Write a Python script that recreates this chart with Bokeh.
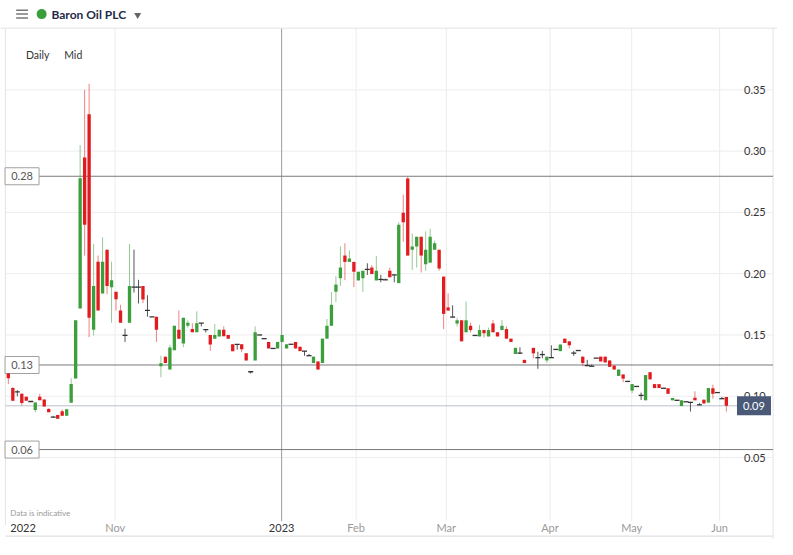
import numpy as np
from bokeh.plotting import figure
from bokeh.models import ColumnDataSource, Range1d
from bokeh.core.properties import value
from bokeh.embed import file_html
from bokeh.resources import INLINE

nan = float("nan")

# ---------------- data (daily OHLC, one entry per trading session) ----------------
opens = [
    .1186, .1067, .1036, .1020, .0996, .0957, .0887, .0996, .0973, .0895,
    .0830, .0848, .0877, .0840, .0946, .1144, .1717, .2948, .3300, .1543,
    .2098, .1838, .2196, .1890, .1852, .1700, .1496, .1600, .1890, .1890,
    .1900, .1700, .1648, .1648, .1244, .1323, .1218, .1376, .1543, .1430,
    .1575, .1548, .1522, .1596, .1543, .1500, .1470, .1488, .1543, .1500,
    .1424, .1424, .1424, .1350, .1200, .1292, .1500, .1470, .1443, .1390,
    .1390, .1443, .1390, .1424, .1443, .1404, .1368, .1331, .1271, .1284,
    .1271, .1470, .1575, .1853, .1963, .2148, .2096, .2096, .1945, .1963,
    .2035, .2050, .1945, .1953, .1950, .2024, .1990, .1923, .2497, .2777,
    .2195, .2222, .2301, .2077, .2090, .2195, .2195, .1976, .1725, .1646,
    .1593, .1620, .1522, .1575, .1496, .1488, .1540, .1488, .1594, .1522,
    .1540, .1548, .1470, .1345, .1352, .1297, nan, .1395, .1315, .1340,
    .1292, .1315, .1382, .1368, .1470, .1448, .1352, .1373, .1323, .1250,
    .1245, .1311, .1323, .1323, .1292, .1250, .1166, .1178, .1121, .1046,
    .1080, .1007, .0967, .1196, .1099, .1099, .1065, .1065, .0967, .0967,
    .0920, .0955, .0950, .0988, .0930, .0972, .0948, .1065, .1030, .0980,
    .0994,
]
highs = [
    .1190, .1075, .1050, .1025, .0996, .0957, .0949, .1020, .0973, .0905,
    .0840, .0848, .0893, .0893, .1147, .1620, .3050, .3500, .3550, .2243,
    .2148, .2296, .2196, .2098, .1852, .1747, .1551, .2243, .2196, .1950,
    .1900, .1824, .1648, .1648, .1330, .1323, .1420, .1575, .1700, .1640,
    .1620, .1596, .1693, .1596, .1543, .1500, .1590, .1543, .1570, .1500,
    .1424, .1424, .1424, .1350, .1200, .1570, .1500, .1470, .1443, .1390,
    .1443, .1500, .1424, .1424, .1443, .1404, .1368, .1345, .1323, .1284,
    .1470, .1630, .1850, .1980, .2222, .2248, .2190, .2096, .2016, .2024,
    .2085, .2070, .2143, .1990, .1960, .2050, .1990, .2420, .2644, .2790,
    .2327, .2301, .2301, .2345, .2366, .2270, .2195, .1976, .1840, .1741,
    .1640, .1620, .1773, .1600, .1496, .1582, .1540, .1560, .1622, .1522,
    .1622, .1570, .1470, .1395, .1400, .1297, nan, .1395, .1363, .1370,
    .1323, .1416, .1382, .1422, .1470, .1448, .1370, .1373, .1323, .1297,
    .1260, .1311, .1323, .1323, .1292, .1250, .1218, .1178, .1121, .1099,
    .1080, .1030, .1173, .1196, .1099, .1099, .1065, .1065, .0986, .0967,
    .0967, .0955, .0950, .1040, .0945, .0972, .1067, .1094, .1030, .0995,
    .0994,
]
lows = [
    .1100, .0960, .1000, .0925, .0964, .0957, .0869, .0968, .0917, .0869,
    .0830, .0816, .0840, .0840, .0946, .1144, .1717, .2148, .1482, .1496,
    .1700, .1838, .1832, .1600, .1700, .1600, .1443, .1600, .1846, .1757,
    .1760, .1649, .1648, .1443, .1155, .1271, .1218, .1376, .1470, .1400,
    .1560, .1522, .1522, .1570, .1520, .1370, .1470, .1488, .1490, .1470,
    .1368, .1380, .1360, .1292, .1185, .1292, .1500, .1470, .1390, .1390,
    .1390, .1443, .1390, .1424, .1390, .1368, .1330, .1331, .1271, .1218,
    .1271, .1470, .1575, .1770, .1900, .1947, .2096, .1891, .1945, .1852,
    .1990, .1997, .1945, .1930, .1950, .1971, .1930, .1923, .2260, .2148,
    .2030, .2050, .2010, .2024, .2090, .2195, .2024, .1548, .1699, .1646,
    .1570, .1448, .1522, .1520, .1496, .1488, .1480, .1488, .1522, .1488,
    .1540, .1470, .1443, .1345, .1345, .1271, nan, .1310, .1224, .1310,
    .1270, .1315, .1382, .1368, .1435, .1390, .1330, .1373, .1245, .1250,
    .1245, .1311, .1284, .1276, .1240, .1218, .1166, .1115, .1121, .1025,
    .1080, .0970, .0967, .1138, .1067, .1067, .1065, .1020, .0967, .0967,
    .0920, .0955, .0875, .0967, .0930, .0941, .0948, .0980, .1030, .0980,
    .0875,
]
closes = [
    .1147, .0964, .1036, .0945, .0964, .0957, .0949, .0968, .0917, .0869,
    .0830, .0816, .0840, .0893, .1099, .1620, .2779, .2399, .1640, .1900,
    .1700, .2098, .1900, .1947, .1791, .1600, .1496, .1900, .1890, .1890,
    .1790, .1700, .1648, .1543, .1270, .1271, .1398, .1575, .1470, .1640,
    .1600, .1522, .1596, .1596, .1543, .1422, .1500, .1543, .1490, .1470,
    .1368, .1424, .1384, .1292, .1200, .1522, .1500, .1470, .1390, .1390,
    .1443, .1500, .1424, .1424, .1390, .1368, .1368, .1331, .1323, .1218,
    .1470, .1575, .1746, .1911, .2050, .2096, .2124, .2016, .2016, .2024,
    .2035, .1997, .2024, .1953, .1950, .1971, .1990, .2399, .2420, .2148,
    .2222, .2301, .2148, .2195, .2301, .2248, .2042, .1672, .1699, .1646,
    .1620, .1448, .1620, .1540, .1496, .1540, .1514, .1540, .1522, .1488,
    .1575, .1470, .1443, .1395, .1352, .1271, nan, .1350, .1315, .1340,
    .1323, .1315, .1382, .1422, .1435, .1416, .1352, .1373, .1271, .1250,
    .1245, .1311, .1284, .1276, .1240, .1218, .1218, .1144, .1121, .1099,
    .1080, .1007, .1173, .1138, .1067, .1067, .1065, .1020, .0986, .0967,
    .0967, .0955, .0950, .0967, .0930, .0941, .1067, .1020, .1030, .0980,
    .0922,
]

y_ticks = [0.05, 0.10, 0.15, 0.20, 0.25, 0.30, 0.35]
y_tick_labels = ["0.05", "0.10", "0.15", "0.20", "0.25", "0.30", "0.35"]
x_ticks = [23.8, 60.9, 77.5, 97.6, 120.7, 138.9, 158.5]
x_tick_labels = ["Nov", "2023", "Feb", "Mar", "Apr", "May", "Jun"]
start_year_label = "2022"
level_values = [0.2795, 0.1255, 0.0565]
level_labels = ["0.28", "0.13", "0.06"]
title_text = "Baron Oil PLC"

# ---------------- layout helpers (reference pixel -> data) ----------------
W, H = 777, 539
RW, RH = 793, 555
X0, DX = 8.0, 4.58
Y_REF, V_REF, PPU = 92.0, 0.35, 1262.0


def px2x(px):
    return (px - X0) / DX


def px2y(py):
    return V_REF - (py - Y_REF) / PPU


FONT = value("Lato")
GREEN, RED, DOJI = "#3c9f3c", "#e21b1f", "#333333"

p = figure(width=W, height=H, output_backend="svg", toolbar_location=None, tools="",
           x_range=Range1d(px2x(0), px2x(RW)), y_range=Range1d(px2y(RH), px2y(0)),
           x_axis_location=None, y_axis_location=None, min_border=0,
           outline_line_color=None, background_fill_color="white", border_fill_color="white")
p.xgrid.grid_line_color = None
p.ygrid.grid_line_color = None

# ---------------- frame / grid ----------------
xl, xr = px2x(5), px2x(788.5)
p.segment(x0=xl, x1=xr, y0=y_ticks, y1=y_ticks, line_color="#ededed", line_width=1)
grid_cols = ["#9c9c9c" if lab.isdigit() else "#ececec" for lab in x_tick_labels]
p.segment(x0=x_ticks, x1=x_ticks, y0=px2y(28.5), y1=px2y(536), line_color=grid_cols, line_width=1)
# header separator, borders, navigator line
p.segment(x0=px2x(0), x1=px2x(RW), y0=px2y(28.5), y1=px2y(28.5), line_color="#e2e2e2", line_width=1)
p.segment(x0=[xl, xr], x1=[xl, xr], y0=px2y(28.5), y1=[px2y(540), px2y(RH)], line_color="#e4e4e4", line_width=1)
p.segment(x0=xl, x1=xr, y0=px2y(551.5), y1=px2y(551.5), line_color="#d9d9d9", line_width=1)

# horizontal level lines with their labels
p.segment(x0=px2x(39), x1=xr, y0=level_values, y1=level_values, line_color="#7a7a7a", line_width=1)
p.rect(x=px2x(22), y=level_values, width=34, height=17, width_units="screen", height_units="screen",
       fill_color="white", line_color="#a0a0a0", line_width=1)
p.text(x=px2x(22), y=level_values, text=level_labels, text_font=FONT, text_font_size="11px",
       text_align="center", text_baseline="middle", text_color="#555555")

# last price line
last_price = closes[-1]
p.segment(x0=xl, x1=px2x(752), y0=last_price, y1=last_price, line_color="#b9c0cc", line_width=1)

# ---------------- candles ----------------
o = np.array(opens); h = np.array(highs); l = np.array(lows); c = np.array(closes)
idx = np.arange(len(o))
ok = ~np.isnan(o)
up = ok & (c > o)
dn = ok & (c < o)
dj = ok & (c == o)

for mask, col in ((up, GREEN), (dn, RED)):
    src = ColumnDataSource(dict(x=idx[mask], o=o[mask], h=h[mask], l=l[mask], c=c[mask],
                                top=np.maximum(o[mask], c[mask]), bot=np.minimum(o[mask], c[mask])))
    p.segment(x0="x", x1="x", y0="l", y1="h", source=src, line_color=col, line_alpha=0.55, line_width=1)
    p.vbar(x="x", width=0.74, top="top", bottom="bot", source=src, fill_color=col, line_color=None)

src_dj = ColumnDataSource(dict(x=idx[dj], h=h[dj], l=l[dj], c=c[dj]))
p.segment(x0="x", x1="x", y0="l", y1="h", source=src_dj, line_color="#555555", line_width=1)
p.scatter(x="x", y="c", source=src_dj, marker="dash", size=5, line_color=DOJI, line_width=1.3)

# ---------------- axis texts ----------------
p.text(x=px2x(781), y=y_ticks, text=y_tick_labels, text_font=FONT, text_font_size="11px",
       text_align="right", text_baseline="middle", text_color="#333333")
p.rect(x=px2x(769), y=last_price, width=34, height=19, width_units="screen", height_units="screen",
       fill_color="#4b5978", line_color=None)
p.text(x=px2x(769), y=last_price, text=["%.2f" % last_price], text_font=FONT, text_font_size="11px",
       text_align="center", text_baseline="middle", text_color="white")

xcols = ["#333333" if lab.isdigit() else "#9a9a9a" for lab in x_tick_labels]
p.text(x=x_ticks, y=px2y(543), text=x_tick_labels, text_font=FONT, text_font_size="11px",
       text_align="center", text_baseline="middle", text_color=xcols)
p.text(x=px2x(10), y=px2y(543), text=[start_year_label], text_font=FONT, text_font_size="11px",
       text_align="left", text_baseline="middle", text_color="#333333")
p.text(x=px2x(10), y=px2y(528), text=["Data is indicative"], text_font=FONT, text_font_size="8px",
       text_align="left", text_baseline="middle", text_color="#999999")

# ---------------- header ----------------
p.segment(x0=px2x(16), x1=px2x(28), y0=[px2y(10), px2y(14), px2y(18)], y1=[px2y(10), px2y(14), px2y(18)],
          line_color="#777777", line_width=1.5)
p.scatter(x=px2x(42), y=px2y(14), marker="circle", size=10, fill_color="#3a9e3a", line_color=None)
p.text(x=px2x(52), y=px2y(14.5), text=[title_text], text_font=value("Lato"), text_font_size="12px",
       text_font_style="bold", text_align="left", text_baseline="middle", text_color="#1f2a48")
p.scatter(x=px2x(140), y=px2y(15), marker="inverted_triangle", size=7, fill_color="#666666", line_color=None)
p.text(x=[px2x(26), px2x(65)], y=px2y(56), text=["Daily", "Mid"], text_font=FONT, text_font_size="10.5px",
       text_align="left", text_baseline="middle", text_color="#333333")

open("out.html", "w").write(file_html(p, INLINE))
